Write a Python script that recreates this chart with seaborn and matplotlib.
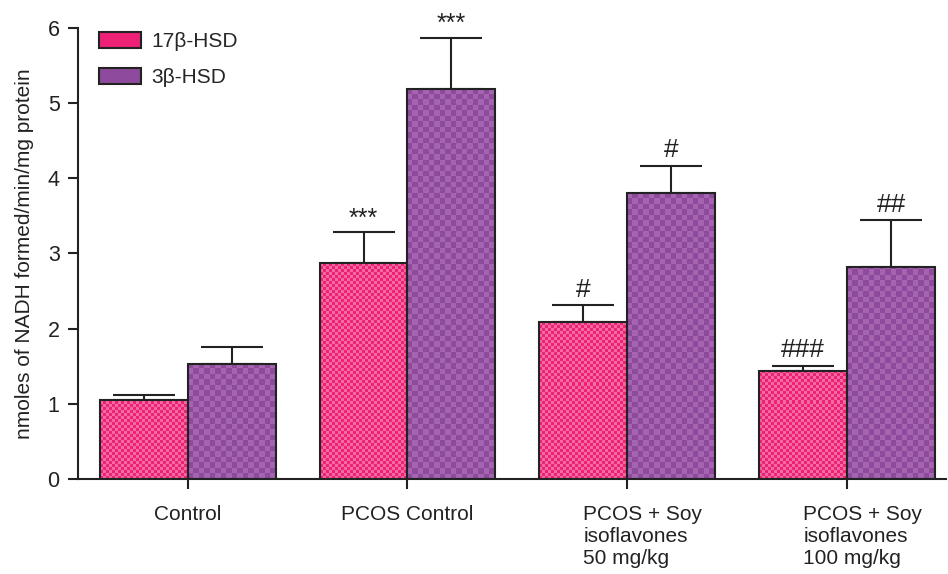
import matplotlib
matplotlib.use("Agg")
import matplotlib.pyplot as plt
import seaborn as sns
import numpy as np
import pandas as pd
from matplotlib.transforms import ScaledTranslation

groups = ["Control", "PCOS Control", "PCOS + Soy\nisoflavones\n50 mg/kg", "PCOS + Soy\nisoflavones\n100 mg/kg"]
enzymes = ["17\u03b2-HSD", "3\u03b2-HSD"]
hsd17_mean = [1.05, 2.87, 2.09, 1.44]
hsd17_err = [0.07, 0.41, 0.22, 0.06]
hsd3_mean = [1.53, 5.18, 3.80, 2.82]
hsd3_err = [0.22, 0.69, 0.36, 0.62]
hsd17_sig = ["", "***", "#", "###"]
hsd3_sig = ["", "***", "#", "##"]

base_cols = ["#ED2176", "#8E4A9C"]
check_cols = ["#F26A9F", "#A464B0"]
check_px = [3, 5.5]

df = pd.DataFrame({
    "group": groups * 2,
    "enzyme": [enzymes[0]] * 4 + [enzymes[1]] * 4,
    "value": hsd17_mean + hsd3_mean,
})

sns.set_style("ticks")
plt.rcParams["font.family"] = ["Liberation Sans", "DejaVu Sans"]

fig = plt.figure(figsize=(9.48, 5.74), dpi=100)
ax = fig.add_axes([0.082, 0.1655, 0.916, 0.786])

sns.barplot(data=df, x="group", y="value", hue="enzyme", order=groups, hue_order=enzymes,
            palette=base_cols, width=0.8, errorbar=None, edgecolor="#222222", linewidth=1.5,
            saturation=1, ax=ax, zorder=2, legend=False)

ax.set_ylim(0, 6)
ax.set_xlim(-0.5, 3.45)

# checkerboard fill inside each bar, errorbars and significance marks
errs = [hsd17_err, hsd3_err]
sigs = [hsd17_sig, hsd3_sig]
bars = ax.patches[:8]
for k, bar in enumerate(bars):
    h = k // 4
    i = k % 4
    x0, w, y1 = bar.get_x(), bar.get_width(), bar.get_height()
    wpx = w * 220.0
    hpx = y1 * 75.2
    nx = max(int(np.ceil(wpx / check_px[h])), 1)
    ny = max(int(np.ceil(hpx / check_px[h])), 1)
    cb = (np.add.outer(np.arange(ny), np.arange(nx)) % 2).astype(float)
    cmap = matplotlib.colors.ListedColormap([base_cols[h], check_cols[h]])
    x1 = x0 + nx * check_px[h] / 220.0
    yt = ny * check_px[h] / 75.2
    im = ax.imshow(cb, cmap=cmap, extent=[x0, x1, 0, yt], origin="lower",
                   interpolation="nearest", aspect="auto", zorder=2.1)
    im.set_clip_path(bar)
    bar.set_zorder(2.2)
    bar.set_facecolor("none")
    xc = x0 + w / 2
    ax.errorbar(xc, y1, yerr=[[0], [errs[h][i]]], fmt="none", ecolor="#222222",
                elinewidth=1.5, capsize=22, capthick=1.5, zorder=1.5)
    if sigs[h][i]:
        star = "*" in sigs[h][i]
        ax.text(xc, y1 + errs[h][i] + (0.02 if star else 0.05), sigs[h][i], ha="center", va="bottom",
                fontsize=18 if star else 19, color="#222222")

ax.set_xlim(-0.5, 3.45)
ax.set_ylim(0, 6)
ax.set_xlabel("")
ax.set_ylabel("nmoles of NADH formed/min/mg protein", fontsize=15, color="#222222", labelpad=10)
ax.set_yticks(range(7))
ax.tick_params(axis="both", labelsize=15, colors="#222222", length=7, width=1.5, direction="out")
ax.tick_params(axis="y", labelsize=15.5, pad=6)
ax.tick_params(axis="x", pad=11.5)
sns.despine(ax=ax)
for s in ["left", "bottom"]:
    ax.spines[s].set_linewidth(1.5)
    ax.spines[s].set_color("#222222")

# multi-line labels are left aligned in the reference
for lbl in ax.get_xticklabels():
    lbl.set_linespacing(1.22)
    if "Soy" in lbl.get_text():
        lbl.set_ha("left")
        lbl.set_transform(lbl.get_transform() + ScaledTranslation(-0.44, 0, fig.dpi_scale_trans))

handles = [matplotlib.patches.Patch(facecolor=base_cols[j], edgecolor="#222222", linewidth=1.5)
           for j in range(2)]
leg = ax.legend(handles, enzymes, loc="upper left", bbox_to_anchor=(0.003, 1.033), frameon=False,
                fontsize=15, handlelength=2.0, handleheight=0.8, labelspacing=0.8, handletextpad=0.5)

fig.savefig("out.png", dpi=100)
